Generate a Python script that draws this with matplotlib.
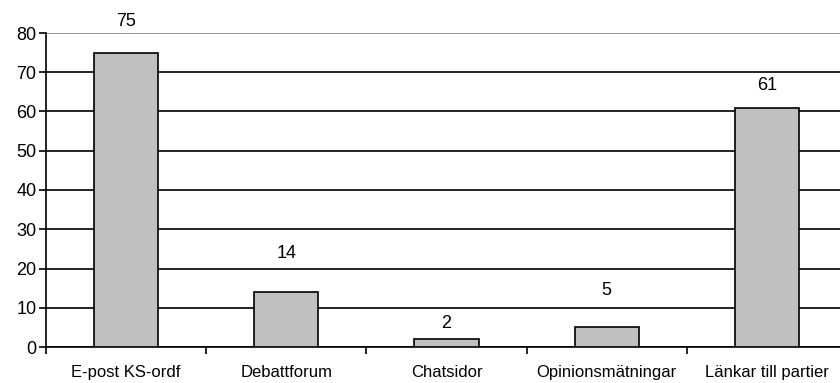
import matplotlib.pyplot as plt
import numpy as np

plt.rcParams['font.family'] = ['Liberation Sans', 'DejaVu Sans']

categories = ["E-post KS-ordf", "Debattforum", "Chatsidor", "Opinionsmätningar", "Länkar till partier"]
values = [75, 14, 2, 5, 61]
# where the value labels sit (data units, label centre)
label_y = [82.9, 23.8, 6.1, 14.3, 66.5]

fig = plt.figure(figsize=(8.4, 3.83), dpi=100)
ax = fig.add_axes([46 / 840, 1 - 347 / 383, 801 / 840, 314 / 383])

x = np.arange(len(categories))
ax.bar(x, values, width=0.4, color="#c0c0c0", edgecolor="black", linewidth=1.2, zorder=3)

for xi, v, ly in zip(x, values, label_y):
    ax.text(xi, ly, str(v), ha="center", va="center", fontsize=13)

ax.set_xlim(-0.5, len(categories) - 0.5)
ax.set_ylim(0, 80)
ax.set_yticks(range(0, 81, 10))
ax.yaxis.grid(True, color="black", linewidth=1.2, zorder=0)
ax.get_ygridlines()[-1].set_color("#808080")
ax.set_axisbelow(True)

# category labels centered, ticks on category boundaries
ax.set_xticks(np.arange(len(categories) + 1) - 0.5)
ax.set_xticklabels([])
ax.set_xticks(x, minor=True)
ax.set_xticklabels(categories, minor=True, fontsize=12)
ax.tick_params(axis="x", which="minor", length=0, pad=13)
ax.tick_params(axis="x", which="major", length=5, width=1.2, direction="out")
ax.tick_params(axis="y", length=5, width=1.2, labelsize=13, pad=2)

for s in ["top", "right"]:
    ax.spines[s].set_visible(False)
ax.spines["left"].set_linewidth(1.2)
ax.spines["bottom"].set_linewidth(1.2)

fig.savefig("out.png", dpi=100)
